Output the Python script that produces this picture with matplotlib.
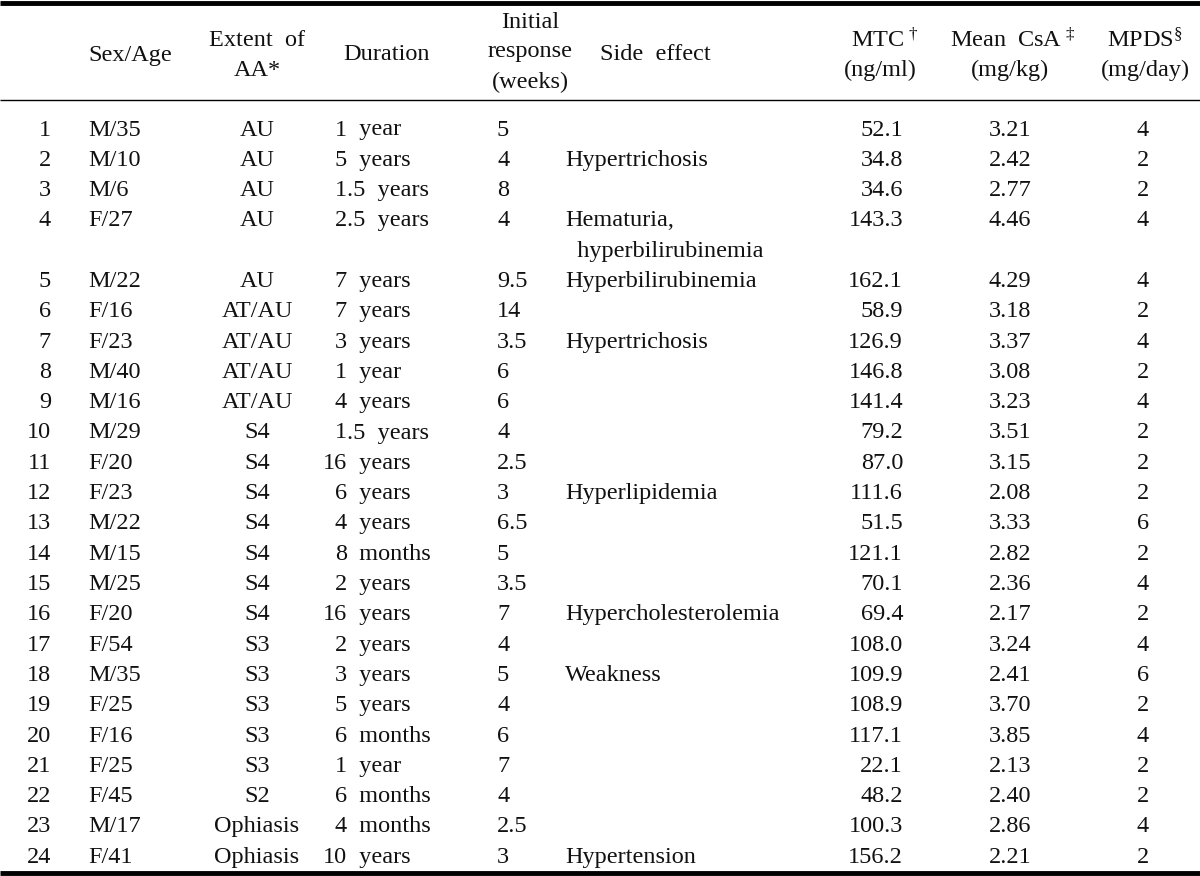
import matplotlib
matplotlib.use("Agg")
import matplotlib.pyplot as plt

plt.rcParams['font.family'] = ['Liberation Serif', 'DejaVu Serif']
plt.rcParams['mathtext.fontset'] = 'custom'
plt.rcParams['mathtext.rm'] = 'Liberation Serif'
plt.rcParams['mathtext.it'] = 'Liberation Serif:italic'

# ---- data ----
patient_no = list(range(1, 25))
sex_age = ["M/35", "M/10", "M/6", "F/27", "M/22", "F/16", "F/23", "M/40", "M/16", "M/29",
           "F/20", "F/23", "M/22", "M/15", "M/25", "F/20", "F/54", "M/35", "F/25", "F/16",
           "F/25", "F/45", "M/17", "F/41"]
extent = ["AU"] * 5 + ["AT/AU"] * 4 + ["S4"] * 7 + ["S3"] * 5 + ["S2"] + ["Ophiasis"] * 2
duration_num = ["1", "5", "1.5", "2.5", "7", "7", "3", "1", "4", "1.5", "16", "6", "4", "8",
                "2", "16", "2", "3", "5", "6", "1", "6", "4", "10"]
duration_unit = ["year", "years", "years", "years", "years", "years", "years", "year", "years",
                 "years", "years", "years", "years", "months", "years", "years", "years",
                 "years", "years", "months", "year", "months", "months", "years"]
initial_resp = ["5", "4", "8", "4", "9.5", "14", "3.5", "6", "6", "4", "2.5", "3", "6.5", "5",
                "3.5", "7", "4", "5", "4", "6", "7", "4", "2.5", "3"]
side_effect = ["", "Hypertrichosis", "", "Hematuria,\n  hyperbilirubinemia", "Hyperbilirubinemia",
               "", "Hypertrichosis", "", "", "", "", "Hyperlipidemia", "", "",
               "", "Hypercholesterolemia", "", "Weakness", "", "", "", "", "", "Hypertension"]
mtc = [52.1, 34.8, 34.6, 143.3, 162.1, 58.9, 126.9, 146.8, 141.4, 79.2, 87.0, 111.6, 51.5,
       121.1, 70.1, 69.4, 108.0, 109.9, 108.9, 117.1, 22.1, 48.2, 100.3, 156.2]
mean_csa = [3.21, 2.42, 2.77, 4.46, 4.29, 3.18, 3.37, 3.08, 3.23, 3.51, 3.15, 2.08, 3.33, 2.82,
            2.36, 2.17, 3.24, 2.41, 3.70, 3.85, 2.13, 2.40, 2.86, 2.21]
mpds = [4, 2, 2, 4, 4, 2, 4, 2, 4, 2, 2, 2, 6, 2, 4, 2, 4, 6, 2, 4, 2, 2, 4, 2]

W, H = 1200, 876
fig = plt.figure(figsize=(W / 100, H / 100), dpi=100)
ax = fig.add_axes([0, 0, 1, 1])
ax.set_xlim(0, W)
ax.set_ylim(H, 0)
ax.axis('off')

FS = 17.5
kw = dict(fontsize=FS, va='center', color='#111111')

# rules
ax.plot([0, W], [3, 3], color='black', lw=3.5, solid_capstyle='butt')
ax.plot([0, W], [100, 100], color='black', lw=1.0, solid_capstyle='butt')
ax.plot([0, W], [873, 873], color='black', lw=3.5, solid_capstyle='butt')

# header
ax.text(130, 55, "Sex/Age", ha='center', **kw)
ax.text(257, 40, "Extent  of", ha='center', **kw)
ax.text(257, 70, "AA*", ha='center', **kw)
ax.text(387, 55, "Duration", ha='center', **kw)
ax.text(530, 22, "Initial", ha='center', **kw)
ax.text(530, 52, "response", ha='center', **kw)
ax.text(530, 82, "(weeks)", ha='center', **kw)
ax.text(655, 55, "Side  effect", ha='center', **kw)
ax.text(885, 40, r"MTC$^{\,\dagger}$", ha='center', **kw)
ax.text(880, 70, "(ng/ml)", ha='center', **kw)
ax.text(1013, 40, r"Mean  CsA$^{\,\ddagger}$", ha='center', **kw)
ax.text(1010, 70, "(mg/kg)", ha='center', **kw)
ax.text(1145, 40, r"MPDS$^{\S}$", ha='center', **kw)
ax.text(1145, 70, "(mg/day)", ha='center', **kw)

# body
y0, dy = 130, 30.3
line = 0
for i in range(24):
    y = y0 + dy * line
    ax.text(51, y, str(patient_no[i]), ha='right', **kw)
    ax.text(88, y, sex_age[i], ha='left', **kw)
    ax.text(257, y, extent[i], ha='center', **kw)
    num = duration_num[i]
    ip, _, frac = num.partition('.')
    ax.text(347, y, ip, ha='right', **kw)
    rest = ('.' + frac if frac else '') + '  ' + duration_unit[i]
    ax.text(347, y, rest, ha='left', **kw)
    ax.text(497, y, initial_resp[i], ha='left', **kw)
    parts = side_effect[i].split('\n')
    for k, p in enumerate(parts):
        if p:
            ax.text(565, y + dy * k, p, ha='left', **kw)
    ax.text(903, y, f"{mtc[i]:.1f}", ha='right', **kw)
    ax.text(1010, y, f"{mean_csa[i]:.2f}", ha='center', **kw)
    ax.text(1143, y, str(mpds[i]), ha='center', **kw)
    line += len(parts)

fig.savefig("out.png", dpi=100)
